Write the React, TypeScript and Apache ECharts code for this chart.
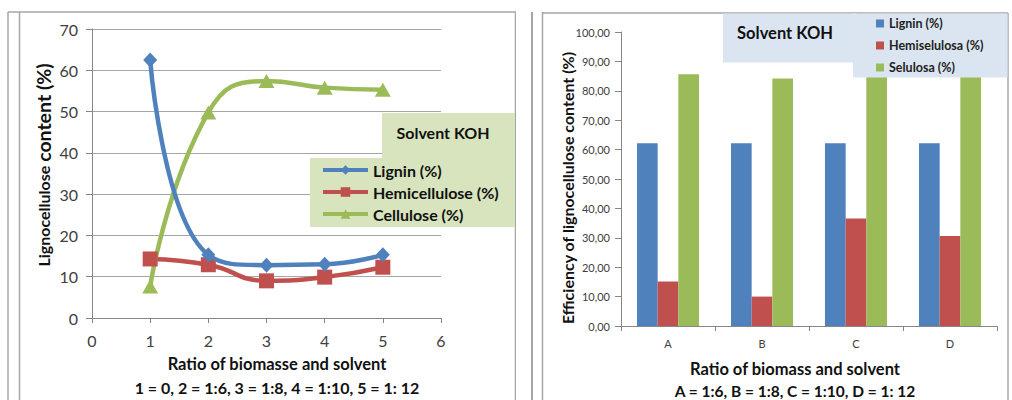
import React, { useEffect, useRef } from "react";
import * as echarts from "echarts";

// ---- Left chart data (line chart) ----
const ratioX = [1, 2, 3, 4, 5];
const ligninLine = [62.5, 15.3, 12.8, 13.0, 15.3];
const hemiLine = [14.3, 12.9, 9.0, 9.9, 12.3];
const celluloseLine = [7.6, 49.8, 57.4, 55.8, 55.3];
const lineSeriesNames = ["Lignin (%)", "Hemicellulose (%)", "Cellulose (%)"];

// ---- Right chart data (bar chart) ----
const barCategories = ["A", "B", "C", "D"];
const ligninBar = [62.2, 62.2, 62.2, 62.2];
const hemiBar = [15.1, 10.0, 36.6, 30.6];
const seluBar = [85.6, 84.2, 86.0, 85.0];
const barSeriesNames = ["Lignin (%)", "Hemiselulosa (%)", "Selulosa (%)"];

const BLUE = "#4f81bd";
const RED = "#c0504d";
const GREEN = "#9bbb59";
const FONT = "Lato, 'Open Sans', sans-serif";
const FRAME = "#a6a6a6";

function LeftChart() {
  const ref = useRef<HTMLDivElement>(null);
  useEffect(() => {
    const chart = echarts.init(ref.current!, null, { renderer: "svg" });
    const pts = (ys: number[]) => ratioX.map((x, i) => [x, ys[i]]);
    chart.setOption({
      animation: false,
      textStyle: { fontFamily: FONT },
      grid: { left: 92, top: 29, width: 349, height: 289 },
      xAxis: {
        type: "value",
        min: 0,
        max: 6,
        interval: 1,
        axisLine: { show: true, onZero: false, lineStyle: { color: "#868686" } },
        axisTick: { show: true, length: 5, lineStyle: { color: "#868686" } },
        axisLabel: { fontSize: 16, color: "#404040", margin: 14, fontFamily: FONT },
        splitLine: { show: false },
      },
      yAxis: {
        type: "value",
        min: 0,
        max: 70,
        interval: 10,
        axisLine: { show: true, lineStyle: { color: "#868686" } },
        axisTick: { show: true, length: 6, lineStyle: { color: "#868686" } },
        axisLabel: { fontSize: 16, color: "#404040", margin: 14, fontFamily: FONT },
        splitLine: { show: true, lineStyle: { color: "#a6a6a6", width: 1.2 } },
      },
      legend: {
        orient: "vertical",
        left: 321,
        top: 162,
        padding: 0,
        itemGap: 6,
        itemWidth: 45,
        itemHeight: 12,
        z: 10,
        data: lineSeriesNames,
        lineStyle: { width: 4 },
        textStyle: { fontSize: 16, fontWeight: "bold", color: "#111", fontFamily: FONT },
      },
      graphic: [
        { type: "line", z: 1, shape: { x1: 8, y1: 12, x2: 8, y2: 400 }, style: { stroke: FRAME, lineWidth: 1.5 } },
        { type: "line", z: 1, shape: { x1: 19.5, y1: 12, x2: 19.5, y2: 400 }, style: { stroke: FRAME, lineWidth: 1.5 } },
        { type: "line", z: 1, shape: { x1: 8, y1: 12, x2: 516, y2: 12 }, style: { stroke: FRAME, lineWidth: 1.5 } },
        { type: "line", z: 1, shape: { x1: 515.5, y1: 12, x2: 515.5, y2: 400 }, style: { stroke: FRAME, lineWidth: 1.5 } },
        { type: "rect", z: 5, shape: { x: 382, y: 113, width: 133, height: 46 }, style: { fill: "#d7e4bd" } },
        { type: "rect", z: 5, shape: { x: 310, y: 158, width: 205, height: 69 }, style: { fill: "#d7e4bd" } },
        {
          type: "text", z: 6, x: 443, y: 132,
          style: { text: "Solvent KOH", fontSize: 16, fontWeight: "bold", fill: "#111", fontFamily: FONT, align: "center", verticalAlign: "middle" },
        },
        {
          type: "text", z: 6, x: 43, y: 165, rotation: Math.PI / 2,
          style: {
            text: "{a|Lignocellulose }{b|content (%)}",
            fill: "#111", fontFamily: FONT, align: "center", verticalAlign: "middle",
            rich: {
              a: { fontSize: 16, fontWeight: "bold", fill: "#111", fontFamily: FONT },
              b: { fontSize: 19.5, fontWeight: "bold", fill: "#111", fontFamily: FONT },
            },
          },
        },
        {
          type: "text", z: 6, x: 277, y: 364,
          style: { text: "Ratio of biomasse and solvent", fontSize: 16.5, fontWeight: "bold", fill: "#111", fontFamily: FONT, align: "center", verticalAlign: "middle" },
        },
        {
          type: "text", z: 6, x: 277, y: 387,
          style: { text: "1 = 0, 2 = 1:6, 3 = 1:8, 4 = 1:10, 5 = 1: 12", fontSize: 16, fontWeight: "bold", fill: "#111", fontFamily: FONT, align: "center", verticalAlign: "middle" },
        },
      ],
      series: [
        {
          name: lineSeriesNames[0], type: "line", smooth: 0.5, data: pts(ligninLine),
          symbol: "diamond", symbolSize: [14, 15], itemStyle: { color: BLUE }, lineStyle: { color: BLUE, width: 4.5 }, z: 3,
        },
        {
          name: lineSeriesNames[1], type: "line", smooth: 0.5, data: pts(hemiLine),
          symbol: "rect", symbolSize: 15, itemStyle: { color: RED }, lineStyle: { color: RED, width: 4.5 }, z: 2,
        },
        {
          name: lineSeriesNames[2], type: "line", smooth: 0.5, data: pts(celluloseLine),
          symbol: "triangle", symbolSize: [16, 14], itemStyle: { color: GREEN }, lineStyle: { color: GREEN, width: 4.5 }, z: 2,
        },
      ],
    });
    return () => chart.dispose();
  }, []);
  return <div ref={ref} style={{ position: "absolute", left: 0, top: 0, width: 516, height: 400 }} />;
}

function RightChart() {
  const ref = useRef<HTMLDivElement>(null);
  useEffect(() => {
    const chart = echarts.init(ref.current!, null, { renderer: "svg" });
    chart.setOption({
      animation: false,
      textStyle: { fontFamily: FONT },
      grid: { left: 105, top: 32, width: 376, height: 294 },
      xAxis: {
        type: "category",
        data: barCategories,
        axisLine: { show: true, lineStyle: { color: "#868686" } },
        axisTick: { show: true, length: 5, alignWithLabel: false, lineStyle: { color: "#868686" } },
        axisLabel: { fontSize: 11, color: "#404040", margin: 12, fontFamily: FONT },
      },
      yAxis: {
        type: "value",
        min: 0,
        max: 100,
        interval: 10,
        axisLine: { show: true, lineStyle: { color: "#868686" } },
        axisTick: { show: true, length: 6, lineStyle: { color: "#868686" } },
        axisLabel: {
          fontSize: 11, color: "#404040", margin: 11, fontFamily: FONT,
          formatter: (v: number) => v.toFixed(2).replace(".", ","),
        },
        splitLine: { show: false },
      },
      legend: {
        orient: "vertical",
        left: 360,
        top: 17,
        padding: 0,
        itemGap: 9,
        itemWidth: 8,
        itemHeight: 8,
        icon: "rect",
        z: 10,
        data: barSeriesNames,
        textStyle: { fontSize: 12.5, fontWeight: "bold", color: "#222", fontFamily: FONT },
      },
      graphic: [
        { type: "line", z: 1, shape: { x1: 16, y1: 12, x2: 16, y2: 400 }, style: { stroke: FRAME, lineWidth: 2 } },
        { type: "line", z: 1, shape: { x1: 26.5, y1: 12, x2: 26.5, y2: 400 }, style: { stroke: FRAME, lineWidth: 1.5 } },
        { type: "line", z: 1, shape: { x1: 26.5, y1: 13, x2: 492, y2: 13 }, style: { stroke: FRAME, lineWidth: 1.5 } },
        { type: "line", z: 1, shape: { x1: 492, y1: 13, x2: 492, y2: 400 }, style: { stroke: FRAME, lineWidth: 1.5 } },
        { type: "rect", z: 5, shape: { x: 207, y: 13.5, width: 134, height: 49 }, style: { fill: "#dbe5f1" } },
        { type: "rect", z: 5, shape: { x: 337, y: 13.5, width: 154.5, height: 64 }, style: { fill: "#dbe5f1" } },
        {
          type: "text", z: 6, x: 269, y: 33,
          style: { text: "Solvent KOH", fontSize: 16.5, fontWeight: "bold", fill: "#111", fontFamily: FONT, align: "center", verticalAlign: "middle" },
        },
        {
          type: "text", z: 6, x: 51, y: 188, rotation: Math.PI / 2,
          style: { text: "Efficiency of lignocellulose content (%)", fontSize: 16, fontWeight: "bold", fill: "#111", fontFamily: FONT, align: "center", verticalAlign: "middle" },
        },
        {
          type: "text", z: 6, x: 279, y: 369,
          style: { text: "Ratio of biomass and solvent", fontSize: 16.5, fontWeight: "bold", fill: "#111", fontFamily: FONT, align: "center", verticalAlign: "middle" },
        },
        {
          type: "text", z: 6, x: 279, y: 391,
          style: { text: "A = 1:6, B = 1:8, C = 1:10, D = 1: 12", fontSize: 15.5, fontWeight: "bold", fill: "#111", fontFamily: FONT, align: "center", verticalAlign: "middle" },
        },
      ],
      series: [
        { name: barSeriesNames[0], type: "bar", data: ligninBar, itemStyle: { color: BLUE }, barGap: "0%", barCategoryGap: "34%", z: 2 },
        { name: barSeriesNames[1], type: "bar", data: hemiBar, itemStyle: { color: RED }, barGap: "0%", barCategoryGap: "34%", z: 2 },
        { name: barSeriesNames[2], type: "bar", data: seluBar, itemStyle: { color: GREEN }, barGap: "0%", barCategoryGap: "34%", z: 2 },
      ],
    });
    return () => chart.dispose();
  }, []);
  return <div ref={ref} style={{ position: "absolute", left: 516, top: 0, width: 496, height: 400 }} />;
}

export default function App() {
  return (
    <div style={{ position: "absolute", left: 0, top: 0, width: 1012, height: 400, background: "#fff", overflow: "hidden" }}>
      <LeftChart />
      <RightChart />
    </div>
  );
}
